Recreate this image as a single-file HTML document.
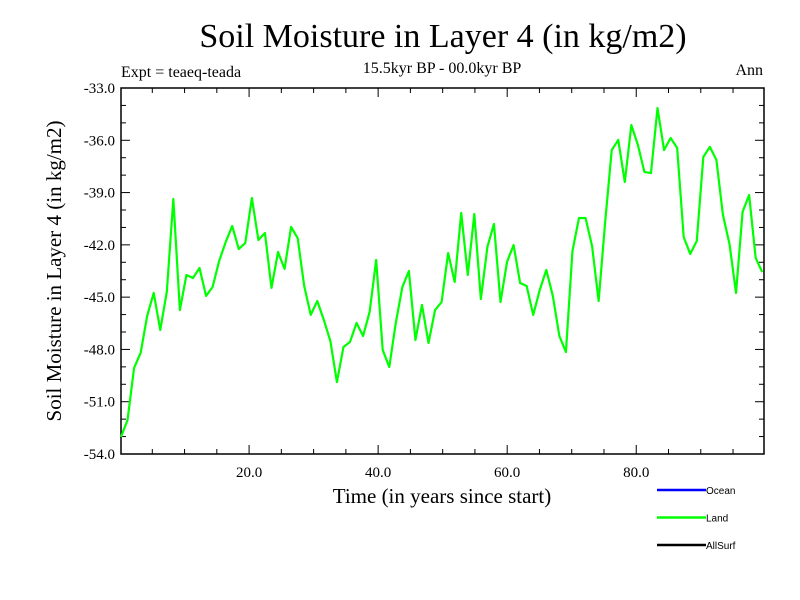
<!DOCTYPE html>
<html><head><meta charset="utf-8"><style>
body{margin:0;background:#fff;}
svg{display:block;font-family:"Liberation Serif",serif;}
</style></head><body>
<svg id="chart" width="800" height="600">
<text x="443" y="47" font-size="34" text-anchor="middle">Soil Moisture in Layer 4 (in kg/m2)</text>
<text x="442" y="73" font-size="16" text-anchor="middle">15.5kyr BP - 00.0kyr BP</text>
<text x="121" y="77" font-size="16">Expt = teaeq-teada</text>
<text x="763" y="75" font-size="16" text-anchor="end">Ann</text>
<text x="0" y="0" font-size="21" text-anchor="middle" transform="translate(61,271) rotate(-90)">Soil Moisture in Layer 4 (in kg/m2)</text>
<text x="442" y="503" font-size="21" text-anchor="middle">Time (in years since start)</text>
<g id="axes"></g>
<g id="series"></g>
<g id="legend" font-family="Liberation Sans, sans-serif" font-size="10"></g>
</svg>
<script>
const yearsStart = 0.15;
const yearsStep = 1.014;
const landValues = [-53.02,-52.05,-49.06,-48.20,-46.08,-44.76,-46.88,-44.70,-39.37,-45.74,-43.73,-43.90,-43.33,-44.93,-44.42,-42.93,-41.84,-40.92,-42.24,-41.89,-39.31,-41.72,-41.32,-44.47,-42.41,-43.38,-40.97,-41.61,-44.36,-46.02,-45.22,-46.31,-47.52,-49.87,-47.86,-47.57,-46.48,-47.23,-45.85,-42.87,-48.03,-49.01,-46.48,-44.42,-43.50,-47.46,-45.45,-47.63,-45.74,-45.28,-42.47,-44.13,-40.17,-43.73,-40.23,-45.11,-42.12,-40.80,-45.28,-42.98,-42.01,-44.19,-44.36,-46.02,-44.59,-43.44,-44.93,-47.23,-48.15,-42.35,-40.46,-40.46,-42.07,-45.22,-40.69,-36.56,-35.98,-38.39,-35.12,-36.27,-37.82,-37.88,-34.15,-36.56,-35.87,-36.44,-41.55,-42.52,-41.78,-36.96,-36.38,-37.13,-40.29,-41.95,-44.76,-40.11,-39.14,-42.75,-43.56];
const yTicks = [-54,-51,-48,-45,-42,-39,-36,-33];
const xTicks = [20,40,60,80];
const legendNames = ["Ocean","Land","AllSurf"];
const legendColors = ["#0000ff","#00ff00","#000000"];

const NS="http://www.w3.org/2000/svg";
const L=121,R=764,T=88,B=454;
const X0=0.15,X1=99.8,Y0=-54,Y1=-33;
function xs(v){return L+(v-X0)/(X1-X0)*(R-L);}
function ys(v){return B-(v-Y0)/(Y1-Y0)*(B-T);}
function mk(tag,attrs,parent){const e=document.createElementNS(NS,tag);for(const k in attrs)e.setAttribute(k,attrs[k]);parent.appendChild(e);return e;}
const axes=document.getElementById('axes');
const frame=mk('rect',{x:L,y:T,width:R-L,height:B-T,fill:'none',stroke:'#000','stroke-width':1.5},axes);


for(let v=-54;v<=-33;v++){
  const major=((v+54)%3===0);const len=major?9:5;const y=ys(v);
  const t1=mk('line',{x1:L,x2:L+len,y1:y,y2:y,stroke:'#000','stroke-width':1},axes);
  
  
  const t2=mk('line',{x1:R,x2:R-len,y1:y,y2:y,stroke:'#000','stroke-width':1},axes);
  
  
}
yTicks.forEach(v=>{
  const t=mk('text',{x:L-6,y:ys(v)+5,'font-size':15,'text-anchor':'end'},axes);t.textContent=v.toFixed(1);
  
  
});
for(let v=5;v<100;v+=5){
  const major=(v%20===0);const len=major?9:5;const x=xs(v);
  const t1=mk('line',{x1:x,x2:x,y1:B,y2:B-len,stroke:'#000','stroke-width':1},axes);
  
  
  const t2=mk('line',{x1:x,x2:x,y1:T,y2:T+len,stroke:'#000','stroke-width':1},axes);
  
  
}
xTicks.forEach(v=>{
  const t=mk('text',{x:xs(v),y:B+23,'font-size':15,'text-anchor':'middle'},axes);t.textContent=v.toFixed(1);
  
  
});
const pts=landValues.map((v,i)=>xs(yearsStart+i*yearsStep)+','+ys(v)).join(' ');
const line=mk('polyline',{points:pts,fill:'none',stroke:'#00ff00','stroke-width':2.2,'stroke-linejoin':'round'},document.getElementById('series'));


const lg=document.getElementById('legend');
legendNames.forEach((n,i)=>{
  const y=490+i*27.5;
  const l=mk('line',{x1:657,x2:706,y1:y,y2:y,stroke:legendColors[i],'stroke-width':2.5},lg);
  
  
  const t=mk('text',{x:706,y:y+4},lg);t.textContent=n;
  
  
});
</script>
</body></html>
